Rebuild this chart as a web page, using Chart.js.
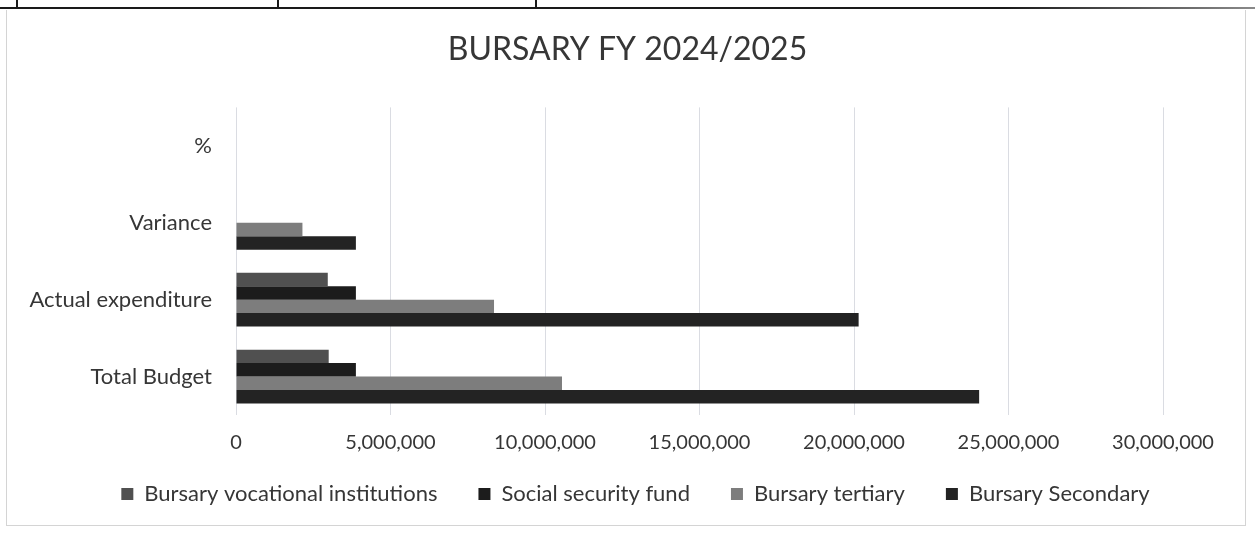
<!DOCTYPE html>
<html>
<head>
<meta charset="utf-8">
<script src="https://cdn.jsdelivr.net/npm/chart.js@4.4.1/dist/chart.umd.min.js"></script>
<style>
  html, body { margin: 0; padding: 0; background: #ffffff; }
  body { width: 1255px; height: 534px; position: relative; overflow: hidden; }
  #frame {
    position: absolute; left: 6px; top: 10px; width: 1240px; height: 516px;
    border: 1px solid #d4d4d4; border-top: none; box-sizing: border-box;
  }
  #rule {
    position: absolute; left: 0; top: 7px; width: 1255px; height: 2px;
    background: linear-gradient(to right, #1a1a1a 0%, #1a1a1a 80%, #8a8a8a 100%);
  }
  .tick { position: absolute; top: 0; width: 2px; height: 8px; background: #1a1a1a; }
  #wrap { position: absolute; left: 0; top: 0; width: 1255px; height: 534px; }
</style>
</head>
<body>
<div id="rule"></div>
<div class="tick" style="left:16px"></div>
<div class="tick" style="left:277px"></div>
<div class="tick" style="left:535px"></div>
<div id="frame"></div>
<div id="wrap"><canvas id="c" width="1255" height="534"></canvas></div>
<script>
// Bursary allocations FY 2024/2025 (KES); the % row carries no plotted amounts
const categories = ['%', 'Variance', 'Actual expenditure', 'Total Budget'];
const seriesNames = ['Bursary vocational institutions', 'Social security fund', 'Bursary tertiary', 'Bursary Secondary'];
const vocational = [null, 0, 2970000, 3000000];
const socialSecurity = [null, 0, 3880000, 3880000];
const tertiary = [null, 2150000, 8350000, 10550000];
const secondary = [null, 3880000, 20150000, 24050000];
const xTicks = [0, 5000000, 10000000, 15000000, 20000000, 25000000, 30000000];
const colours = ['#505050', '#1c1c1c', '#7d7d7d', '#232323'];

const FONT = 'Lato, "Open Sans", sans-serif';
const TEXT = '#363636';

const datasets = [vocational, socialSecurity, tertiary, secondary].map((d, i) => ({
  label: seriesNames[i],
  data: d,
  backgroundColor: colours[i],
  borderWidth: 0,
  inflateAmount: 0,
  categoryPercentage: 0.70,
  barPercentage: 1.0
}));

// Keep the legend compact and tuck it up under the axis labels
const LEGEND_H = 79;
const legendPlacement = {
  id: 'legendPlacement',
  afterInit(chart) {
    const lg = chart.legend;
    const fit = lg.fit;
    lg.fit = function () { fit.call(this); this.height = LEGEND_H; };
  },
  afterLayout(chart) {
    const lg = chart.legend;
    lg.top -= 13; lg.bottom -= 13;
    lg.left += 8; lg.right += 8;
  }
};

new Chart(document.getElementById('c'), {
  type: 'bar',
  data: { labels: categories, datasets },
  plugins: [legendPlacement],
  options: {
    indexAxis: 'y',
    responsive: false,
    animation: false,
    layout: { padding: { left: 0, right: 0, top: 0, bottom: 0 } },
    plugins: {
      title: {
        display: true,
        text: 'BURSARY FY 2024/2025',
        color: TEXT,
        font: { family: FONT, size: 32, weight: 'normal' },
        padding: { top: 30, bottom: 39 }
      },
      legend: {
        position: 'bottom',
        labels: {
          color: TEXT,
          font: { family: FONT, size: 22 },
          boxWidth: 12, boxHeight: 12,
          padding: 41
        }
      },
      tooltip: { enabled: false }
    },
    scales: {
      x: {
        min: 0, max: 30000000,
        afterBuildTicks: s => { s.ticks = xTicks.map(v => ({ value: v })); },
        grid: { color: '#dadce2', drawTicks: false, lineWidth: 1 },
        border: { display: false },
        ticks: {
          color: TEXT, padding: 16, maxRotation: 0,
          font: { family: FONT, size: 20 },
          callback: v => Number(v).toLocaleString('en-US')
        },
        afterFit: s => { s.height = 40; }
      },
      y: {
        grid: { display: false, drawTicks: false },
        border: { display: false },
        ticks: { color: TEXT, padding: 24, font: { family: FONT, size: 22 } },
        afterFit: s => { s.width = 236; }
      },
      // empty right-hand margin so the plot ends at the 30,000,000 gridline
      yRight: {
        position: 'right',
        grid: { display: false, drawTicks: false },
        border: { display: false },
        ticks: { display: false },
        afterFit: s => { s.width = 92; }
      }
    }
  }
});
</script>
</body>
</html>
